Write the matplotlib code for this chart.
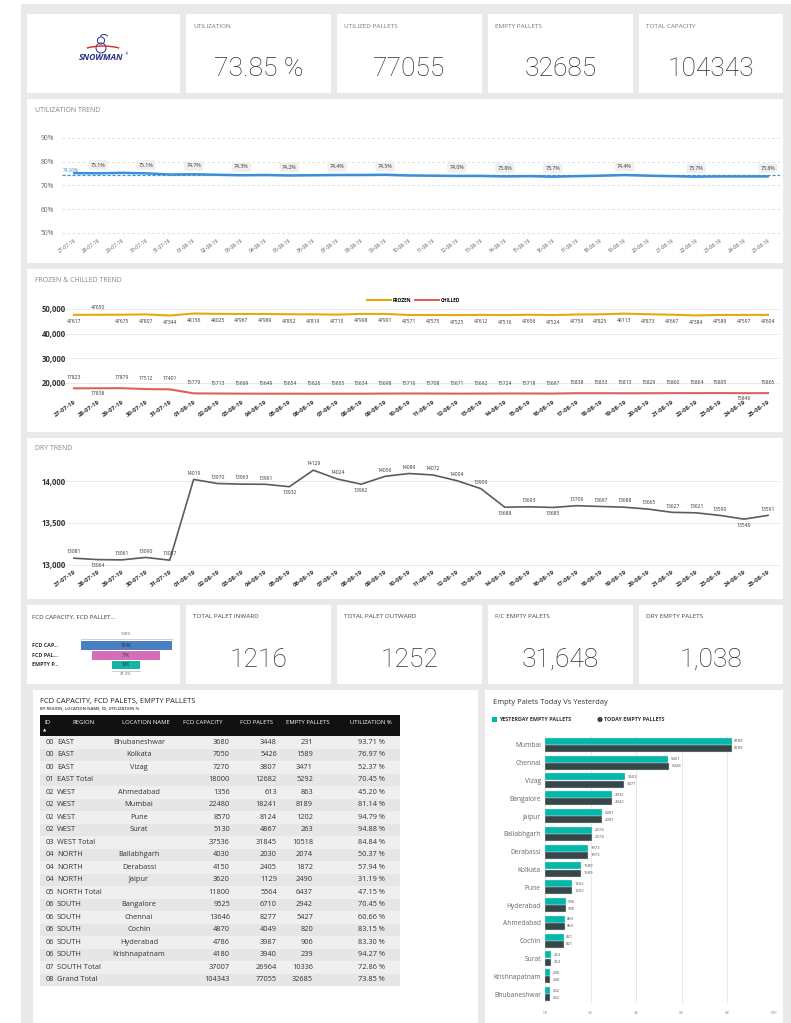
import matplotlib
matplotlib.use("Agg")
import matplotlib.pyplot as plt
from matplotlib.patches import Rectangle, Circle, Arc
import numpy as np

plt.rcParams["font.family"] = ["Open Sans", "DejaVu Sans"]

W, H = 791, 1023

# ---- data ----
dates = ["27-07-19", "28-07-19", "29-07-19", "30-07-19", "31-07-19",
         "01-08-19", "02-08-19", "03-08-19", "04-08-19", "05-08-19",
         "06-08-19", "07-08-19", "08-08-19", "09-08-19", "10-08-19",
         "11-08-19", "12-08-19", "13-08-19", "14-08-19", "15-08-19",
         "16-08-19", "17-08-19", "18-08-19", "19-08-19", "20-08-19",
         "21-08-19", "22-08-19", "23-08-19", "24-08-19", "25-08-19"]

util_pct = [75.2, 75.1, 75.3, 75.1, 74.6, 74.7, 74.5, 74.3, 74.4, 74.2,
            74.3, 74.4, 74.4, 74.5, 74.2, 74.1, 74.0, 74.0, 73.8, 73.9,
            73.7, 73.9, 74.1, 74.4, 74.1, 73.9, 73.7, 73.8, 73.8, 73.8]
util_avg = 74.26
util_label_idx = [1, 3, 5, 7, 9, 11, 13, 16, 18, 20, 23, 26, 29]

frozen = [47617, 47650, 47675, 47807, 47344, 48156, 48025, 47967, 47989, 47852,
          47819, 47715, 47998, 47991, 47571, 47575, 47525, 47612, 47516, 47656,
          47524, 47759, 47825, 48113, 47873, 47667, 47384, 47589, 47597, 47604]
chilled = [17823, 17838, 17879, 17512, 17401, 15779, 15713, 15669, 15649, 15654,
           15626, 15655, 15634, 15698, 15716, 15708, 15671, 15692, 15724, 15718,
           15697, 15838, 15833, 15813, 15829, 15860, 15864, 15895, 15846, 15865]
dry = [13081, 13064, 13061, 13090, 13057, 14019, 13970, 13963, 13961, 13932,
       14129, 14024, 13962, 14056, 14089, 14072, 14004, 13909, 13688, 13693,
       13685, 13706, 13697, 13688, 13665, 13627, 13621, 13590, 13546, 13591]
dry_below = [1, 9, 12, 18, 20, 28]

kpi1_titles = ["UTILIZATION", "UTILIZED PALLETS", "EMPTY PALLETS", "TOTAL CAPACITY"]
kpi1_values = ["73.85 %", "77055", "32685", "104343"]
kpi2_titles = ["TOTAL PALET INWARD", "TOTAL PALET OUTWARD", "F/C EMPTY PALETS", "DRY EMPTY PALETS"]
kpi2_values = ["1216", "1252", "31,648", "1,038"]

funnel_labels = ["FCD CAP...", "FCD PAL...", "EMPTY P..."]
funnel_values = [104343, 77055, 32685]
funnel_colors = ["#4a7fc1", "#d36fb6", "#12b5a6"]

tbl_id = ["00", "00", "00", "01", "02", "02", "02", "02", "03", "04",
          "04", "04", "05", "06", "06", "06", "06", "06", "07", "08"]
tbl_region = ["EAST", "EAST", "EAST", "EAST Total", "WEST", "WEST", "WEST", "WEST",
              "WEST Total", "NORTH", "NORTH", "NORTH", "NORTH Total", "SOUTH", "SOUTH",
              "SOUTH", "SOUTH", "SOUTH", "SOUTH Total", "Grand Total"]
tbl_location = ["Bhubaneshwar", "Kolkata", "Vizag", "", "Ahmedabad", "Mumbai", "Pune", "Surat",
                "", "Ballabhgarh", "Derabassi", "Jaipur", "", "Bangalore", "Chennai", "Cochin",
                "Hyderabad", "Krishnapatnam", "", ""]
tbl_capacity = [3680, 7050, 7270, 18000, 1356, 22480, 8570, 5130, 37536, 4030,
                4150, 3620, 11800, 9525, 13646, 4870, 4786, 4180, 37007, 104343]
tbl_pallets = [3448, 5426, 3807, 12682, 613, 18241, 8124, 4867, 31845, 2030,
               2405, 1129, 5564, 6710, 8277, 4049, 3987, 3940, 26964, 77055]
tbl_empty = [231, 1589, 3471, 5292, 863, 8189, 1202, 263, 10518, 2074,
             1872, 2490, 6437, 2942, 5427, 820, 906, 239, 10336, 32685]
tbl_util = ["93.71 %", "76.97 %", "52.37 %", "70.45 %", "45.20 %", "81.14 %", "94.79 %",
            "94.88 %", "84.84 %", "50.37 %", "57.94 %", "31.19 %", "47.15 %", "70.45 %",
            "60.66 %", "83.15 %", "83.30 %", "94.27 %", "72.86 %", "73.85 %"]

bar_cities = ["Mumbai", "Chennai", "Vizag", "Bangalore", "Jaipur", "Ballabhgarh",
              "Derabassi", "Kolkata", "Pune", "Hyderabad", "Ahmedabad", "Cochin",
              "Surat", "Krishnapatnam", "Bhubaneshwar"]
bar_yesterday = [8189, 5401, 3503, 2932, 2491, 2074, 1873, 1589, 1202, 906, 863, 821, 263, 240, 232]
bar_today = [8189, 5428, 3471, 2942, 2491, 2074, 1873, 1589, 1202, 906, 863, 821, 263, 240, 232]

TEAL = "#01B8AA"
DARK = "#374649"

fig = plt.figure(figsize=(W / 100, H / 100), dpi=100)
ov = fig.add_axes([0, 0, 1, 1])
ov.set_xlim(0, W)
ov.set_ylim(H, 0)
ov.axis("off")
ov.add_patch(Rectangle((21, 4), W - 21, H - 4, fc="#e9e9e9", ec="none"))


def panel(x0, y0, x1, y1):
    ov.add_patch(Rectangle((x0, y0), x1 - x0, y1 - y0, fc="white", ec="none"))


def px_axes(x0, y0, x1, y1):
    a = fig.add_axes([x0 / W, 1 - y1 / H, (x1 - x0) / W, (y1 - y0) / H])
    a.set_facecolor("none")
    for s in a.spines.values():
        s.set_visible(False)
    return a


def big(x, y, s):
    ov.text(x, y, s, fontsize=19, color="#2e2e2e", ha="center", va="center",
            family=["Roboto", "DejaVu Sans"], fontweight="light")


cols = [(27, 180), (186, 331), (337, 482), (488, 633), (639, 783)]

# ---- KPI row 1 ----
for x0, x1 in cols:
    panel(x0, 14, x1, 93)
for (x0, x1), t, v in zip(cols[1:], kpi1_titles, kpi1_values):
    ov.text(x0 + 7, 27, t, fontsize=4.6, color="#777777", va="center")
    big((x0 + x1) / 2, 69, v)

# logo
ov.add_patch(Circle((101, 40.5), 3.6, fc="none", ec="#2b2f86", lw=0.7))
ov.add_patch(Circle((101, 48.0), 5.0, fc="none", ec="#2b2f86", lw=0.7))
ov.add_patch(Arc((104, 36.5), 7, 4, theta1=180, theta2=360, ec="#2b2f86", lw=0.7))
ov.text(101, 57.5, "SNOWMAN", fontsize=6.2, fontweight="bold", fontstyle="italic",
        color="#2b2f86", ha="center", va="center")
ov.text(125, 54, "®", fontsize=2.8, color="#2b2f86", ha="left", va="center")
ov.add_patch(Arc((103, 54), 48, 16, theta1=200, theta2=340, ec="#d42a2a", lw=1.0))

# ---- utilization trend ----
panel(27, 99, 783, 263)
ov.text(35, 110, "UTILIZATION TREND", fontsize=5.0, color="#888888", va="center")
x = np.arange(len(dates))
ax = px_axes(62, 128, 780, 236)
ax.set_xlim(-0.5, len(dates) - 0.5)
ax.set_ylim(48.7, 94.2)
ax.set_yticks([50, 60, 70, 80, 90])
ax.set_yticklabels([f"{v}%" for v in [50, 60, 70, 80, 90]], fontsize=4.8, color="#666666")
ax.grid(axis="y", color="#d9d9d9", ls=(0, (3, 3)), lw=0.6)
ax.plot(x, util_pct, color="#3a8fd8", lw=1.8, solid_capstyle="round")
ax.axhline(util_avg, color="#3a8fd8", lw=0.9, ls=(0, (2.5, 1.5)))
ax.text(-0.45, util_avg + 2.2, f"{util_avg:.2f}%", fontsize=3.3, color="#3a8fd8", va="center")
for i in util_label_idx:
    ax.annotate(f"{util_pct[i]:.1f}%", (x[i], util_pct[i]), xytext=(0, 6),
                textcoords="offset points", ha="center", va="center", fontsize=3.8,
                color="#333333",
                bbox=dict(boxstyle="round,pad=0.45", fc="#efefef", ec="none"))
ax.set_xticks(x)
ax.set_xticklabels(dates, rotation=35, ha="right", rotation_mode="anchor",
                   fontsize=3.6, color="#555555")
ax.tick_params(length=0, pad=1.5)
ax.tick_params(axis="y", pad=6)

# ---- frozen & chilled ----
panel(27, 269, 783, 432)
ov.text(35, 280, "FROZEN & CHILLED TREND", fontsize=5.0, color="#888888", va="center")
fx = px_axes(62, 300, 780, 397)
fx.set_xlim(-0.5, len(dates) - 0.5)
fx.set_ylim(14300, 53640)
fx.set_yticks([20000, 30000, 40000, 50000])
fx.set_yticklabels([f"{v:,}" for v in [20000, 30000, 40000, 50000]],
                   fontsize=5.6, fontweight="bold", color="#333333")
fx.grid(axis="y", color="#e6e6e6", lw=0.6)
lf, = fx.plot(x, frozen, color="#E8A80C", lw=1.5)
lc, = fx.plot(x, chilled, color="#D9625C", lw=1.5)
for i, v in enumerate(frozen):
    dy = 5 if i == 1 else -5
    fx.annotate(str(v), (x[i], v), xytext=(0, dy), textcoords="offset points",
                ha="center", va="center", fontsize=3.6, color="#333333")
for i, v in enumerate(chilled):
    dy = -3.5 if i in (1, 28) else 7.5
    fx.annotate(str(v), (x[i], v), xytext=(0, dy), textcoords="offset points",
                ha="center", va="center", fontsize=3.6, color="#333333")
fx.set_xticks(x)
fx.set_xticklabels(dates, rotation=35, ha="right", rotation_mode="anchor",
                   fontsize=4.4, fontweight="bold", color="#333333")
fx.tick_params(length=0, pad=1.5)
fx.tick_params(axis="y", pad=-3)
fx.legend([lf, lc], ["FROZEN", "CHILLED"], ncol=2, loc="center",
          bbox_to_anchor=(0.49, 1.0), frameon=False,
          prop={"weight": "bold", "size": 3.4}, handlelength=5, columnspacing=0.8,
          handletextpad=0.4)

# ---- dry trend ----
panel(27, 438, 783, 599)
ov.text(35, 448, "DRY TREND", fontsize=5.0, color="#888888", va="center")
dx = px_axes(62, 458, 780, 567)
dx.set_xlim(-0.5, len(dates) - 0.5)
dx.set_ylim(12976, 14274)
dx.set_yticks([13000, 13500, 14000])
dx.set_yticklabels([f"{v:,}" for v in [13000, 13500, 14000]],
                   fontsize=5.6, fontweight="bold", color="#333333")
dx.grid(axis="y", color="#e6e6e6", lw=0.6)
dx.plot(x, dry, color="#5c5c5c", lw=1.2)
for i, v in enumerate(dry):
    dy = -4.5 if i in dry_below else 4.5
    dx.annotate(str(v), (x[i], v), xytext=(0, dy), textcoords="offset points",
                ha="center", va="center", fontsize=3.6, color="#333333")
dx.set_xticks(x)
dx.set_xticklabels(dates, rotation=35, ha="right", rotation_mode="anchor",
                   fontsize=4.4, fontweight="bold", color="#333333")
dx.tick_params(length=0, pad=1.5)
dx.tick_params(axis="y", pad=-3)

# ---- KPI row 2 ----
for x0, x1 in cols:
    panel(x0, 605, x1, 684)
for (x0, x1), t, v in zip(cols[1:], kpi2_titles, kpi2_values):
    ov.text(x0 + 7, 617, t, fontsize=4.6, color="#444444", va="center")
    big((x0 + x1) / 2, 660, v)

ov.text(32, 617, "FCD CAPACITY, FCD PALLET...", fontsize=4.4, color="#333333", va="center")
fn = px_axes(78, 638, 174, 672)
fn.axis("off")
fy = np.arange(len(funnel_values))
fmax = funnel_values[0]
fn.set_xlim(-fmax / 2 * 96 / 91, fmax / 2 * 96 / 91)
fn.set_ylim(2.72, -0.77)
fn.barh(fy, funnel_values, left=[-v / 2 for v in funnel_values], height=0.92,
        color=funnel_colors)
for yy, v, lab in zip(fy, funnel_values, funnel_labels):
    fn.text(0, yy, f"{v // 1000}K", ha="center", va="center", fontsize=3.3, color="#333333")
    fn.text(-0.48, yy, lab, transform=fn.get_yaxis_transform(), ha="left", va="center",
            fontsize=3.9, fontweight="bold", color="#333333")
fn.plot([-fmax / 2, fmax / 2], [-0.66, -0.66], color="#bbbbbb", lw=0.5)
fn.plot([-funnel_values[-1] / 2, funnel_values[-1] / 2], [2.62, 2.62], color="#bbbbbb", lw=0.5)
fn.text(0, -0.95, "100%", ha="center", va="bottom", fontsize=3.0, color="#555555")
fn.text(0, 2.75, f"{funnel_values[-1] / fmax * 100:.1f}%", ha="center", va="top",
        fontsize=3.0, color="#555555")

# ---- table ----
panel(33, 690, 478, 1023)
ov.text(40, 701, "FCD CAPACITY, FCD PALETS, EMPTY PALLETS", fontsize=5.4, color="#222222",
        va="center")
ov.text(40, 708.5, "BY REGION, LOCATION NAME, ID, UTILIZATION %", fontsize=3.0,
        color="#555555", va="center", fontweight="bold")
ov.add_patch(Rectangle((40, 715), 360, 21, fc="#111111", ec="none"))
headers = [("ID", 44, "left"), ("REGION", 83, "center"), ("LOCATION NAME", 146, "center"),
           ("FCD CAPACITY", 203, "center"), ("FCD PALETS", 256, "center"),
           ("EMPTY PALLETS", 308, "center"), ("UTILIZATION %", 371, "center")]
for t, hx, ha in headers:
    ov.text(hx, 722, t, fontsize=4.2, color="white", ha=ha, va="center")
ov.text(45, 730, "▲", fontsize=3.0, color="white", ha="center", va="center")
row_h = 12.5
for i in range(len(tbl_id)):
    y0 = 736 + i * row_h
    yc = y0 + row_h / 2
    ov.add_patch(Rectangle((40, y0), 360, row_h, fc="#efefef" if i % 2 == 0 else "#e6e6e6",
                           ec="none"))
    ov.text(46, yc, tbl_id[i], fontsize=5.3, color="#333333", va="center")
    ov.text(57, yc, tbl_region[i], fontsize=5.3, color="#333333", va="center")
    ov.text(139, yc, tbl_location[i], fontsize=5.3, color="#333333", va="center", ha="center")
    ov.text(230, yc, str(tbl_capacity[i]), fontsize=5.3, color="#333333", va="center", ha="right")
    ov.text(277, yc, str(tbl_pallets[i]), fontsize=5.3, color="#333333", va="center", ha="right")
    ov.text(313, yc, str(tbl_empty[i]), fontsize=5.3, color="#333333", va="center", ha="right")
    ov.text(385, yc, tbl_util[i], fontsize=5.3, color="#333333", va="center", ha="right")

# ---- bar chart ----
panel(485, 690, 783, 1023)
ov.text(493, 702, "Empty Palets Today Vs Yesterday", fontsize=5.4, color="#333333", va="center")
ov.add_patch(Rectangle((492, 717), 5, 5, fc=TEAL, ec="none"))
ov.text(499, 719.5, "YESTERDAY EMPTY PALLETS", fontsize=3.9, fontweight="bold",
        color="#333333", va="center")
ov.add_patch(Circle((600, 719.5), 2.6, fc=DARK, ec="none"))
ov.text(604, 719.5, "TODAY EMPTY PALLETS", fontsize=3.9, fontweight="bold",
        color="#333333", va="center")

bx = px_axes(545, 736, 773, 1003)
by = np.arange(len(bar_cities))
bx.barh(by - 0.2, bar_yesterday, height=0.39, color=TEAL, ec="#cfd8d8", lw=0.3)
bx.barh(by + 0.2, bar_today, height=0.39, color=DARK, ec="#cfd8d8", lw=0.3)
for yy, v in zip(by, bar_yesterday):
    bx.text(v + 110, yy - 0.2, str(v), fontsize=3.1, color="#555555", va="center")
for yy, v in zip(by, bar_today):
    bx.text(v + 110, yy + 0.2, str(v), fontsize=3.1, color="#555555", va="center")
bx.set_xlim(0, 10000)
bx.set_ylim(len(bar_cities) - 0.5, -0.5)
bx.set_xticks(range(0, 10001, 2000))
bx.set_xticklabels([f"{v // 1000}K" for v in range(0, 10001, 2000)], fontsize=3.2,
                   color="#999999")
bx.set_yticks(by)
bx.set_yticklabels(bar_cities, fontsize=4.8, color="#666666")
bx.grid(axis="x", color="#e4e4e4", lw=0.6)
bx.set_axisbelow(True)
bx.tick_params(length=0, pad=3)
bx.tick_params(axis="x", pad=6)

fig.savefig("out.png", dpi=100)
